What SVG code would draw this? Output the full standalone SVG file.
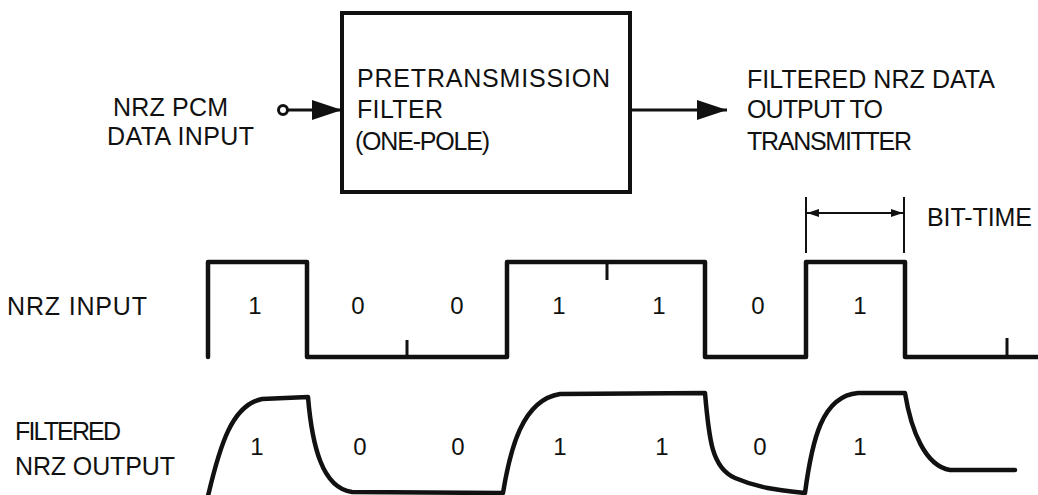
<svg xmlns="http://www.w3.org/2000/svg" width="1038" height="495" viewBox="0 0 1038 495">
<style>
  .t { font-family: "Liberation Sans", Arial, sans-serif; font-size: 25px; fill: #111; }
  .d { font-family: "Liberation Sans", Arial, sans-serif; font-size: 24px; fill: #111; text-anchor: middle; }
  .w { fill: none; stroke: #111; stroke-width: 4.5; stroke-linejoin: round; stroke-linecap: round; }
  .c { fill: none; stroke: #111; stroke-width: 3; }
  .thin { fill: none; stroke: #111; stroke-width: 2; }
</style>
<defs>
  <marker id="bigHead" markerWidth="30" markerHeight="20" refX="30" refY="10" orient="auto" markerUnits="userSpaceOnUse">
    <path d="M0,0 L30,10 L0,20 Z" fill="#111"/>
  </marker>
  <marker id="smallHead" markerWidth="12" markerHeight="8" refX="12" refY="4" orient="auto-start-reverse" markerUnits="userSpaceOnUse">
    <path d="M0,0 L12,4 L0,8 Z" fill="#111"/>
  </marker>
</defs>
<rect width="1038" height="495" fill="#fff"/>

<g id="input-label">
  <text class="t" x="113" y="116" textLength="115">NRZ PCM</text>
  <text class="t" x="107" y="145" textLength="147">DATA INPUT</text>
</g>

<g id="filter">
  <rect x="342" y="13" width="288" height="179" fill="none" stroke="#111" stroke-width="4"/>
  <text class="t" x="357" y="87" textLength="253">PRETRANSMISSION</text>
  <text class="t" x="357" y="118" textLength="86">FILTER</text>
  <text class="t" x="355" y="150" textLength="135">(ONE-POLE)</text>
</g>

<g id="output-label">
  <text class="t" x="747" y="88" textLength="248">FILTERED NRZ DATA</text>
  <text class="t" x="747" y="118" textLength="136">OUTPUT TO</text>
  <text class="t" x="747" y="150" textLength="165">TRANSMITTER</text>
</g>

<g id="connectors">
  <circle cx="283" cy="110" r="4.5" fill="#fff" stroke="#111" stroke-width="3"/>
  <line class="c" x1="288" y1="110" x2="342" y2="110" marker-end="url(#bigHead)"/>
  <line class="c" x1="632" y1="110" x2="727" y2="110" marker-end="url(#bigHead)"/>
</g>

<g id="bit-time">
  <line class="thin" x1="806" y1="197" x2="806" y2="253"/>
  <line class="thin" x1="904" y1="197" x2="904" y2="253"/>
  <line class="thin" x1="807" y1="213" x2="903" y2="213" marker-start="url(#smallHead)" marker-end="url(#smallHead)"/>
  <text class="t" x="927" y="226" textLength="105">BIT-TIME</text>
</g>

<g id="nrz-input">
  <text class="t" x="7" y="315" textLength="140">NRZ INPUT</text>
  <path class="w" d="M208,357 L208,262 L307,262 L307,357 L507,357 L507,262 L705,262 L705,357 L806,357 L806,262 L905,262 L905,357 L1040,357"/>
  <line class="c" x1="407" y1="357" x2="407" y2="340"/>
  <line class="c" x1="607" y1="262" x2="607" y2="280"/>
  <line class="c" x1="1007" y1="357" x2="1007" y2="338"/>
  <text class="d" x="255" y="314">1</text>
  <text class="d" x="358" y="314">0</text>
  <text class="d" x="457" y="314">0</text>
  <text class="d" x="559" y="314">1</text>
  <text class="d" x="659" y="314">1</text>
  <text class="d" x="758" y="314">0</text>
  <text class="d" x="860" y="314">1</text>
</g>

<g id="filtered-output">
  <text class="t" x="15" y="440" textLength="106">FILTERED</text>
  <text class="t" x="15" y="475" textLength="160">NRZ OUTPUT</text>
  <path class="w" d="M208,496 C220,445 232,405 262,399 L308,397 C312,445 322,488 352,492 L503,493 C510,450 522,400 560,394 L705,393 C709,440 712,468 735,478 C758,488 778,490 805,493 C812,440 822,396 858,393 L905,393 C911,430 925,466 950,470 L1015,470"/>
  <text class="d" x="257" y="455">1</text>
  <text class="d" x="360" y="455">0</text>
  <text class="d" x="458" y="455">0</text>
  <text class="d" x="560" y="455">1</text>
  <text class="d" x="662" y="455">1</text>
  <text class="d" x="760" y="455">0</text>
  <text class="d" x="860" y="455">1</text>
</g>
</svg>
